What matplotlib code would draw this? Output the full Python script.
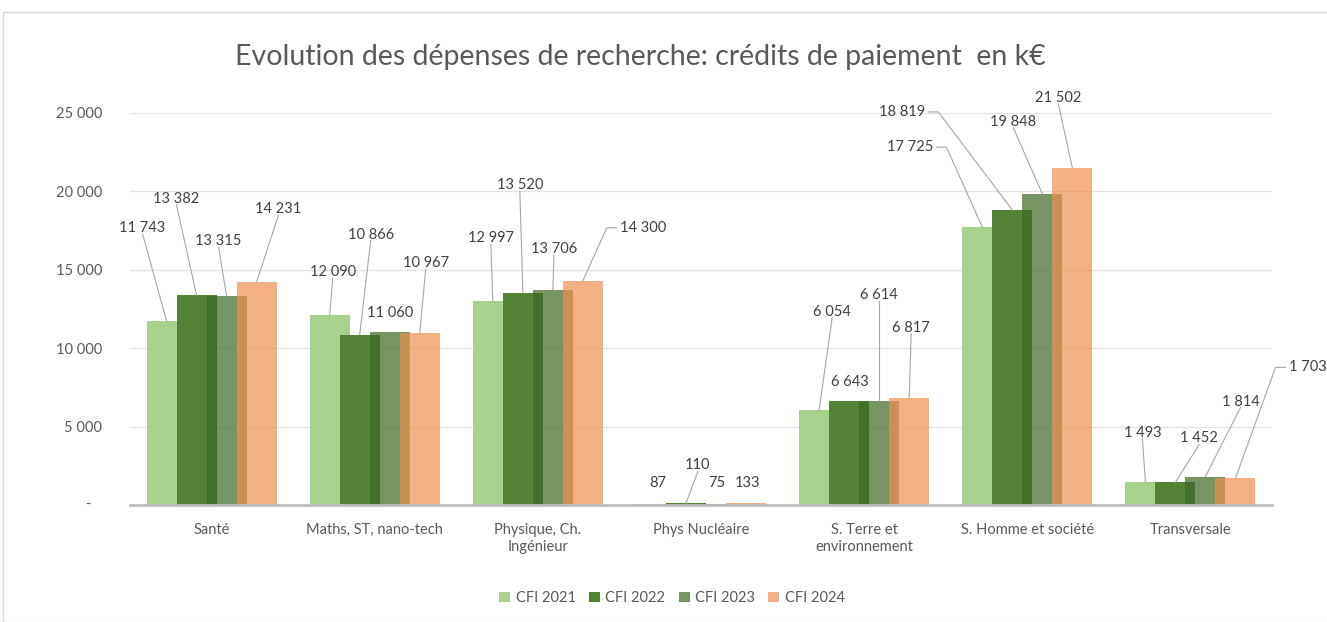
import matplotlib
matplotlib.use("Agg")
import matplotlib.pyplot as plt
from matplotlib.patches import Rectangle
from matplotlib.lines import Line2D
import numpy as np

# ---------------- data ----------------
categories = ["Santé", "Maths, ST, nano-tech", "Physique, Ch.\nIngénieur",
              "Phys Nucléaire", "S. Terre et\nenvironnement",
              "S. Homme et société", "Transversale"]
series_names = ["CFI 2021", "CFI 2022", "CFI 2023", "CFI 2024"]
cfi_2021 = [11743, 12090, 12997, 87, 6054, 17725, 1493]
cfi_2022 = [13382, 10866, 13520, 110, 6643, 18819, 1452]
cfi_2023 = [13315, 11060, 13706, 75, 6614, 19848, 1814]
cfi_2024 = [14231, 10967, 14300, 133, 6817, 21502, 1703]
y_ticks = [0, 5000, 10000, 15000, 20000, 25000]
y_tick_labels = ["-", "5 000", "10 000", "15 000", "20 000", "25 000"]
title = "Evolution des dépenses de recherche: crédits de paiement  en k€"

# ---------------- layout / style ----------------
W, H = 1327, 622
FONT = ["Lato", "DejaVu Sans"]
plt.rcParams['font.family'] = FONT

colors = ["#A9D18E", "#548235", "#3E6823", "#EF904E"]
alphas = [1.0, 1.0, 0.7, 0.7]
text_col = "#404040"
axis_text_col = "#595959"

# label placement: (dx px, dy px, leader style) relative to bar top
label_layout = [
    [(-24, 93, 'b'), (3, 43, 'b'), (-2, 63, 'b'), (2, 21, 'n'), (13, 98, 'b'), (-72, 80, 'R'), (-3, 49, 'b')],
    [(-20, 96, 'b'), (11, 100, 'b'), (-3, 108, 'b'), (12, 38, 'b'), (1, 19, 'n'), (-110, 98, 'R'), (24, 44, 'b')],
    [(-8, 55, 'b'), (0, 19, 'n'), (1, 41, 'b'), (1, 21, 'n'), (0, 106, 'b'), (-29, 72, 'b'), (35, 75, 'b')],
    [(22, 73, 'b'), (6, 70, 'b'), (60, 53, 'L'), (1, 20, 'n'), (2, 70, 'b'), (-14, 70, 'b'), (72, 111, 'L')],
]

fig = plt.figure(figsize=(W / 100, H / 100), dpi=100)
fig.patch.set_facecolor("white")

# chart border
fig.patches.append(Rectangle((3 / W, 0), 1.2, 1 - 12 / H, transform=fig.transFigure,
                             fill=False, ec="#D9D9D9", lw=1.0, zorder=0))

ax = fig.add_axes([130 / W, (H - 505) / H, (1272 - 130) / W, (505 - 113) / H])
ax.set_xlim(-0.5, len(categories) - 0.5)
ax.set_ylim(0, 25000)

series = [cfi_2021, cfi_2022, cfi_2023, cfi_2024]
x = np.arange(len(categories))
bar_w = 0.245
step = 0.184
offsets = [(-1.5 + k) * step for k in range(4)]

for k, vals in enumerate(series):
    ax.bar(x + offsets[k], vals, width=bar_w, color=colors[k], alpha=alphas[k],
           zorder=2 + k, linewidth=0)

# grid & axes
ax.set_yticks(y_ticks)
ax.set_yticklabels([""] + y_tick_labels[1:])
ax.yaxis.grid(True, color="#E3E3E3", lw=0.9, zorder=0)
ax.set_axisbelow(True)
for s in ["left", "right", "top"]:
    ax.spines[s].set_visible(False)
ax.spines["bottom"].set_color("#BFBFBF")
ax.spines["bottom"].set_linewidth(2.0)
ax.spines["bottom"].set_zorder(10)
ax.tick_params(axis="y", length=0, pad=20, labelsize=10.5, labelcolor=axis_text_col)
ax.tick_params(axis="x", length=0, pad=13, labelsize=10.5, labelcolor=axis_text_col)
ax.set_xticks(x)
ax.set_xticklabels(categories, linespacing=1.3, va="top")
# zero label shown as "-"
ax.annotate(y_tick_labels[0], xy=(0, 0), xycoords=("axes fraction", "data"),
            xytext=(-42, 0), textcoords="offset pixels", ha="center", va="center",
            fontsize=10.5, color=axis_text_col)

fig.text(640 / W, 1 - 57 / H, title, ha="center", va="center",
         fontsize=20.5, color=axis_text_col)

# data labels
texts = []
for k, vals in enumerate(series):
    for i, v in enumerate(vals):
        dx, dy, style = label_layout[k][i]
        lab = f"{v:,}".replace(",", " ")
        t = ax.annotate(lab, xy=(x[i] + offsets[k], v), xycoords="data",
                        xytext=(dx, dy), textcoords="offset pixels",
                        ha="center", va="center", fontsize=10.5, color=text_col,
                        zorder=20, annotation_clip=False)
        texts.append((t, x[i] + offsets[k], v, style))

# legend
handles = [Rectangle((0, 0), 1, 1, fc=colors[k], alpha=alphas[k], lw=0) for k in range(4)]
fig.legend(handles, series_names, loc="center", bbox_to_anchor=(672 / W, 1 - 598 / H),
           ncol=4, frameon=False, fontsize=10.5, handlelength=0.75, handleheight=0.75,
           handletextpad=0.4, columnspacing=0.9, labelcolor=axis_text_col)

# leader lines
fig.canvas.draw()
renderer = fig.canvas.get_renderer()
inv = fig.transFigure.inverted()
for t, bx, bv, style in texts:
    if style == 'n':
        continue
    bb = t.get_window_extent(renderer)
    px, py = ax.transData.transform((bx, bv))
    cy = (bb.y0 + bb.y1) / 2
    if style == 'b':
        pts = [((bb.x0 + bb.x1) / 2, bb.y0 + 1), (px, py)]
    elif style == 'L':
        pts = [(bb.x0 - 3, cy), (bb.x0 - 13, cy), (px, py)]
    else:
        pts = [(bb.x1 + 3, cy), (bb.x1 + 13, cy), (px, py)]
    fpts = inv.transform(pts)
    fig.lines.append(Line2D(fpts[:, 0], fpts[:, 1], transform=fig.transFigure,
                            color="#A6A6A6", lw=0.8, zorder=15))

fig.savefig("out.png", dpi=100)
